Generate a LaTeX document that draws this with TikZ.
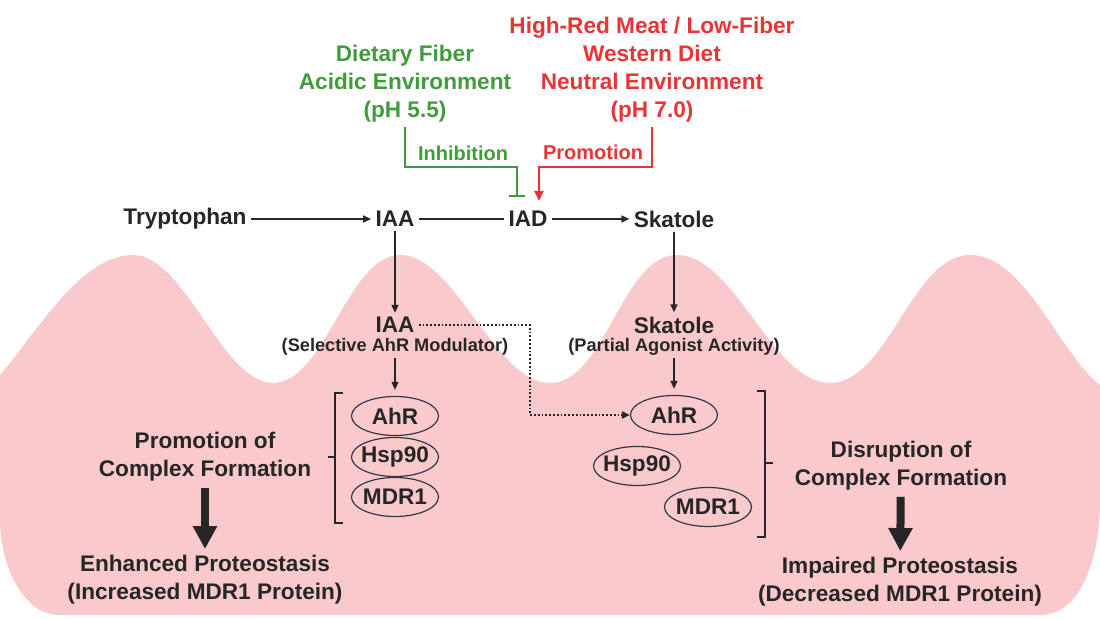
\documentclass[tikz,border=0pt]{standalone}
\usepackage{fontspec}
\setmainfont{Liberation Sans}
\usetikzlibrary{arrows.meta,shapes.geometric}
\definecolor{pinkbg}{RGB}{249,201,203}
\definecolor{grn}{RGB}{64,156,58}
\definecolor{rd}{RGB}{232,52,52}
\definecolor{ink}{RGB}{38,38,38}
\definecolor{ell}{RGB}{50,55,70}
\begin{document}
\begin{tikzpicture}[x=0.5pt,y=-0.5pt,
 lbl/.style={font=\fontsize{11.3}{14}\selectfont\bfseries, text=ink, inner sep=2pt, align=center},
 lowlbl/.style={font=\fontsize{11.3}{14}\selectfont\bfseries, text=ink, inner sep=2pt, align=center},
 sub/.style={font=\fontsize{9.1}{11}\selectfont\bfseries, text=ink, inner sep=1pt},
 ctl/.style={font=\fontsize{10}{12}\selectfont\bfseries, inner sep=1pt},
 prot/.style={ellipse, draw=ell, line width=0.6pt, minimum width=43.5pt, minimum height=19.5pt, inner xsep=-4pt, inner ysep=0pt, font=\fontsize{11.3}{13}\selectfont\bfseries, text=ink},
 arr/.style={draw=ink, line width=0.75pt, -{Triangle[length=4pt,width=3.5pt]}},
 big/.style={draw=ink, line width=4pt, -{Triangle[length=11.5pt,width=11.5pt]}},
 brk/.style={draw=ink, line width=0.9pt},
 ]
\useasboundingbox (0,0) rectangle (1100,619);
% background hills
\fill[pinkbg] (0,375) .. controls (35,335) and (80,255) .. (133,255)
  .. controls (185,255) and (222,383) .. (273,383)
  .. controls (325,383) and (348,255) .. (400,255)
  .. controls (455,255) and (495,383) .. (550,383)
  .. controls (605,383) and (622,255) .. (677,255)
  .. controls (735,255) and (772,383) .. (830,383)
  .. controls (888,383) and (912,255) .. (970,255)
  .. controls (1025,255) and (1060,355) .. (1100,385)
  -- (1100,500) .. controls (1100,560) and (1080,615) .. (1040,615)
  -- (60,615) .. controls (20,615) and (0,560) .. (0,520) -- cycle;

% top row
\node[lbl] (trp) at (185,219) {Tryptophan};
\node[lbl] (iaa) at (395,219) {IAA};
\node[lbl] (iad) at (528,219) {IAD};
\node[lbl] (sk) at (674,219) {Skatole};
\draw[arr] (trp) -- (iaa);
\draw[draw=ink, line width=0.75pt] (iaa) -- (iad);
\draw[arr] (iad) -- (sk);

% diet conditions
\node[lbl, text=grn] (fib) at (405,84) {Dietary Fiber\\Acidic Environment\\(pH 5.5)};
\node[lbl, text=rd] (diet) at (652,70) {High-Red Meat / Low-Fiber\\Western Diet\\Neutral Environment\\(pH 7.0)};
\coordinate (gk) at (517,167);
\coordinate (gend) at (517,197);
\coordinate (rk) at (539,167);
\coordinate (rend) at (539,201);
\draw[grn, line width=1pt, -{Bar[width=8pt,line width=1pt]}] (fib.south) |- (gk) -- (gend);
\draw[rd, line width=1pt, -{Triangle[length=5pt,width=4.5pt]}] (diet.south) |- (rk) -- (rend);
\node[ctl, text=grn] (inh) at (463,153) {Inhibition};
\node[ctl, text=rd] (pro) at (593,152) {Promotion};

% left branch
\node[lbl] (iaa2) at (395,325) {IAA};
\node[sub] (iaa2s) at (395,347) {(Selective AhR Modulator)};
\draw[arr] (iaa) -- (iaa2);
\node[prot] (ahrL) at (395,416) {AhR};
\node[prot] (hspL) at (395,457) {Hsp90};
\node[prot] (mdrL) at (395,497) {MDR1};
\draw[arr, shorten >=3pt] (iaa2s) -- (ahrL);
\draw[brk] (343,393) -- (335,393) -- (335,523) -- (343,523);
\draw[brk] (335,457) -- (328,457);
\node[lowlbl] (prom) at (205,457) {Promotion of\\Complex Formation};
\node[lowlbl] (enh) at (205,580) {Enhanced Proteostasis\\(Increased MDR1 Protein)};
\draw[big, shorten <=1pt, shorten >=1pt] (prom) -- (enh);

% right branch
\node[lbl] (sk2) at (674,325) {Skatole};
\node[sub] (sk2s) at (674,347) {(Partial Agonist Activity)};
\draw[arr] (sk) -- (sk2);
\node[prot] (ahrR) at (674,415) {AhR};
\node[prot] (hspR) at (637,466) {Hsp90};
\node[prot] (mdrR) at (708,507) {MDR1};
\draw[arr, shorten >=3pt] (sk2s) -- (ahrR);
\draw[brk] (757,391) -- (765,391) -- (765,537) -- (757,537);
\draw[brk] (765,463) -- (773,463);
\node[lowlbl] (dis) at (901,466) {Disruption of\\Complex Formation};
\node[lowlbl] (imp) at (900,582) {Impaired Proteostasis\\(Decreased MDR1 Protein)};
\draw[big, shorten <=1pt, shorten >=1pt] (dis) -- (imp);

% cross link
\draw[draw=ink, line width=0.9pt, densely dotted, -{Triangle[length=4pt,width=3.5pt]}] (iaa2.east) -| (530,380) |- (ahrR.west);
\end{tikzpicture}
\end{document}
